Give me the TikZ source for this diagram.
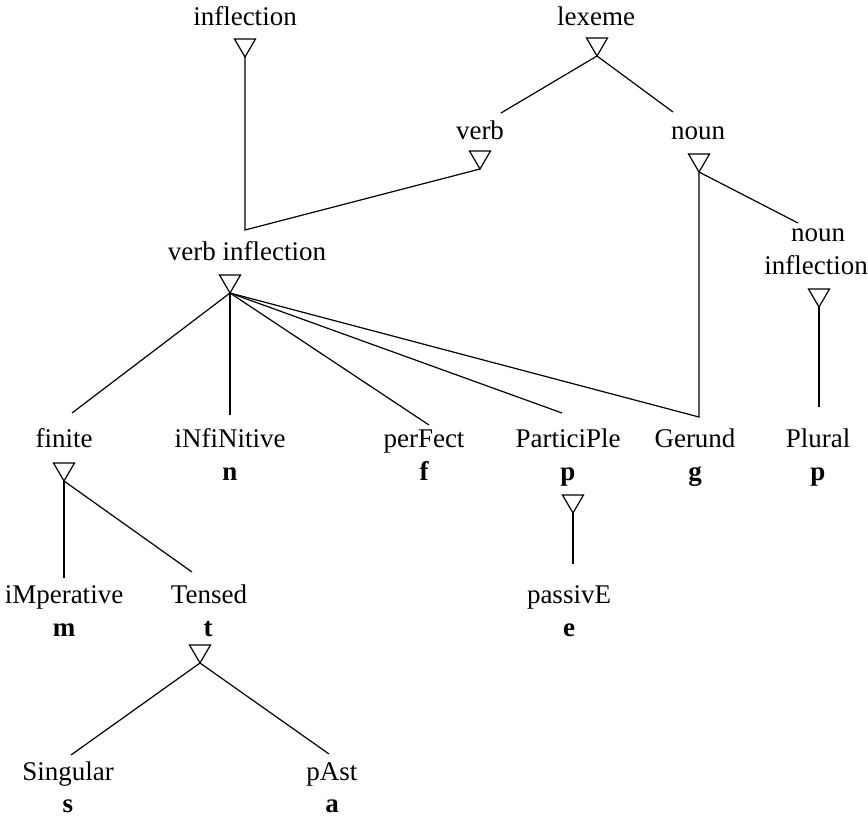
\documentclass[tikz,border=0pt]{standalone}
\usepackage{fontspec}
\setmainfont{Liberation Serif}
\begin{document}
\begin{tikzpicture}[x=1pt,y=-1pt,
  line width=1.2pt,
  lbl/.style={anchor=base,inner sep=0pt,font=\fontsize{27}{32}\selectfont},
  key/.style={lbl,font=\fontsize{27}{32}\selectfont\bfseries},
  link/.style={line join=miter}]
\useasboundingbox (0,0) rectangle (868,817);

% isa triangle: name, centre x, top y; the tip is the named coordinate
\newcommand\isatri[3]{%
  \draw ({#2-10.5},#3) -- ({#2+10.5},#3) -- (#2,{#3+18}) -- cycle;
  \coordinate (#1) at (#2,{#3+18});}

% labels
\node[lbl] (inflection) at (245,25) {inflection};
\node[lbl] (lexeme) at (596,25) {lexeme};
\node[lbl] (verb) at (480,139) {verb};
\node[lbl] (noun) at (698,139) {noun};
\node[lbl] (verbinfl) at (247,260) {verb inflection};
\node[lbl] (nouninfl1) at (818,241) {noun};
\node[lbl] (nouninfl2) at (816,274) {inflection};
\node[lbl] (finite) at (64,447) {finite};
\node[lbl] (infinitive) at (230,447) {iNfiNitive};
\node[key] (kn) at (230,480) {n};
\node[lbl] (perfect) at (424,447) {perFect};
\node[key] (kf) at (424,480) {f};
\node[lbl] (participle) at (568,447) {ParticiPle};
\node[key] (kp) at (568,480) {p};
\node[lbl] (gerund) at (695,447) {Gerund};
\node[key] (kg) at (695,480) {g};
\node[lbl] (plural) at (818,447) {Plural};
\node[key] (kpl) at (818,480) {p};
\node[lbl] (imperative) at (64,603) {iMperative};
\node[key] (km) at (64,636) {m};
\node[lbl] (tensed) at (209,603) {Tensed};
\node[key] (kt) at (208,636) {t};
\node[lbl] (passive) at (569,603) {passivE};
\node[key] (ke) at (569,636) {e};
\node[lbl] (singular) at (68,780) {Singular};
\node[key] (ks) at (68,812) {s};
\node[lbl] (past) at (332,780) {pAst};
\node[key] (ka) at (332,812) {a};

% isa triangles below the supertypes
\isatri{inflection-t}{245}{39}
\isatri{lexeme-t}{597}{38}
\isatri{verb-t}{480}{151}
\isatri{noun-t}{699}{154}
\isatri{verbinfl-t}{230}{275}
\isatri{nouninfl-t}{819}{289}
\isatri{finite-t}{64}{463}
\isatri{participle-t}{573}{495}
\isatri{tensed-t}{200}{645}

% attachment points above the subtypes
\coordinate (verbinfl-in) at (245,230);
\coordinate (verb-in) at (501,113);
\coordinate (noun-in) at (673,112);
\coordinate (nouninfl-in) at (798,223);
\coordinate (finite-in) at (72,413);
\coordinate (infinitive-in) at (230,415);
\coordinate (perfect-in) at (429,425);
\coordinate (participle-in) at (562,413);
\coordinate (gerund-in) at (699,417);
\coordinate (plural-in) at (819,407);
\coordinate (imperative-in) at (64,578);
\coordinate (tensed-in) at (192,572);
\coordinate (passive-in) at (573,564);
\coordinate (singular-in) at (71,755);
\coordinate (past-in) at (329,754);

% isa links
\draw[link] (inflection-t) -- (verbinfl-in) -- (verb-t);
\draw (lexeme-t) -- (verb-in);
\draw (lexeme-t) -- (noun-in);
\draw (noun-t) -- (nouninfl-in);
\draw[link] (noun-t) -- (gerund-in) -- (verbinfl-t);
\draw (verbinfl-t) -- (finite-in);
\draw (verbinfl-t) -- (infinitive-in);
\draw (verbinfl-t) -- (perfect-in);
\draw (verbinfl-t) -- (participle-in);
\draw (nouninfl-t) -- (plural-in);
\draw (finite-t) -- (imperative-in);
\draw (finite-t) -- (tensed-in);
\draw (participle-t) -- (passive-in);
\draw (tensed-t) -- (singular-in);
\draw (tensed-t) -- (past-in);
\end{tikzpicture}
\end{document}
